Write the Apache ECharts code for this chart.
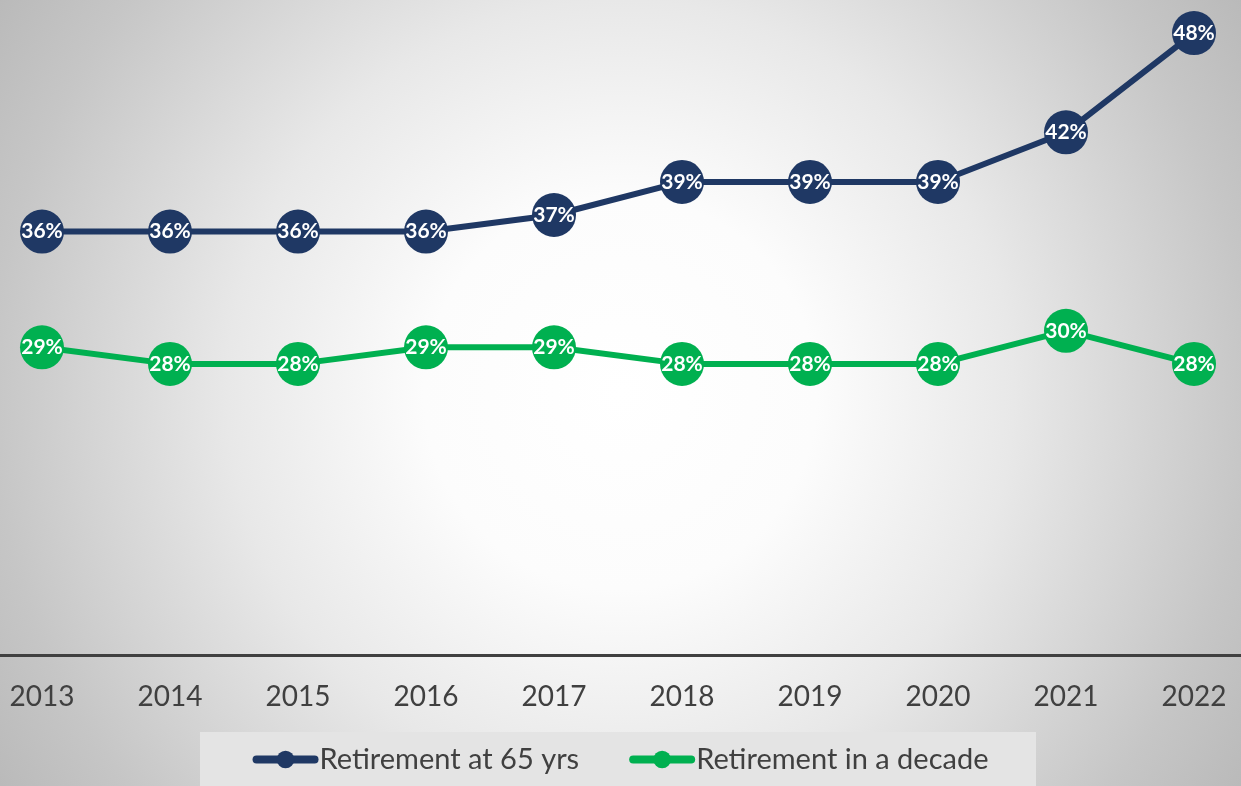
<!DOCTYPE html>
<html>
<head>
<meta charset="utf-8">
<script src="https://cdn.jsdelivr.net/npm/echarts@6/dist/echarts.min.js"></script>
<style>
  html, body { margin: 0; padding: 0; }
  #main { width: 1241px; height: 786px; }
</style>
</head>
<body>
<div id="main"></div>
<script>
// 年份（x轴）
var years = ['2013', '2014', '2015', '2016', '2017', '2018', '2019', '2020', '2021', '2022'];
// 两条曲线的数值 (%)
var retireAt65 = [36, 36, 36, 36, 37, 39, 39, 39, 42, 48];
var retireInDecade = [29, 28, 28, 29, 29, 28, 28, 28, 30, 28];
var seriesNames = ['Retirement at 65 yrs', 'Retirement in a decade'];
var colors = ['#1f3864', '#00b050'];

var chart = echarts.init(document.getElementById('main'));

function makeSeries(name, data, color) {
  return {
    name: name,
    type: 'line',
    data: data,
    symbol: 'circle',
    symbolSize: 44,
    lineStyle: { width: 6, color: color },
    itemStyle: { color: color },
    label: {
      show: true,
      position: 'inside',
      formatter: '{c}%',
      color: '#ffffff',
      fontFamily: 'Lato',
      fontWeight: 'bold',
      fontSize: 21
    },
    emphasis: { disabled: true }
  };
}

var option = {
  animation: false,
  backgroundColor: {
    type: 'radial', x: 0.5, y: 0.5, r: 1,
    colorStops: [
      { offset: 0, color: '#ffffff' },
      { offset: 0.25, color: '#fcfcfc' },
      { offset: 0.5, color: '#e8e8e8' },
      { offset: 0.8, color: '#c6c6c6' },
      { offset: 1, color: '#b4b4b4' }
    ]
  },
  graphic: [{
    type: 'rect',
    z: -1,
    shape: { x: 200, y: 732, width: 836, height: 60 },
    style: { fill: '#e4e4e4' }
  }],
  grid: { left: -22, right: -17, top: 0, bottom: 131, outerBoundsMode: 'none', containLabel: false },
  legend: {
    top: 740,
    left: 'center',
    itemWidth: 58,
    itemHeight: 22,
    itemGap: 50,
    lineStyle: { width: 8, cap: 'round' },
    textStyle: { fontFamily: 'Lato', fontSize: 29, color: '#404040' },
    data: seriesNames
  },
  xAxis: {
    type: 'category',
    data: years,
    boundaryGap: true,
    axisLine: { lineStyle: { color: '#404040', width: 3 } },
    axisTick: { show: false },
    axisLabel: { fontFamily: 'Lato', fontSize: 28, color: '#404040', margin: 28 }
  },
  yAxis: {
    type: 'value',
    min: 10.4,
    max: 50,
    show: false
  },
  series: [
    makeSeries(seriesNames[0], retireAt65, colors[0]),
    makeSeries(seriesNames[1], retireInDecade, colors[1])
  ]
};

chart.setOption(option);
</script>
</body>
</html>
